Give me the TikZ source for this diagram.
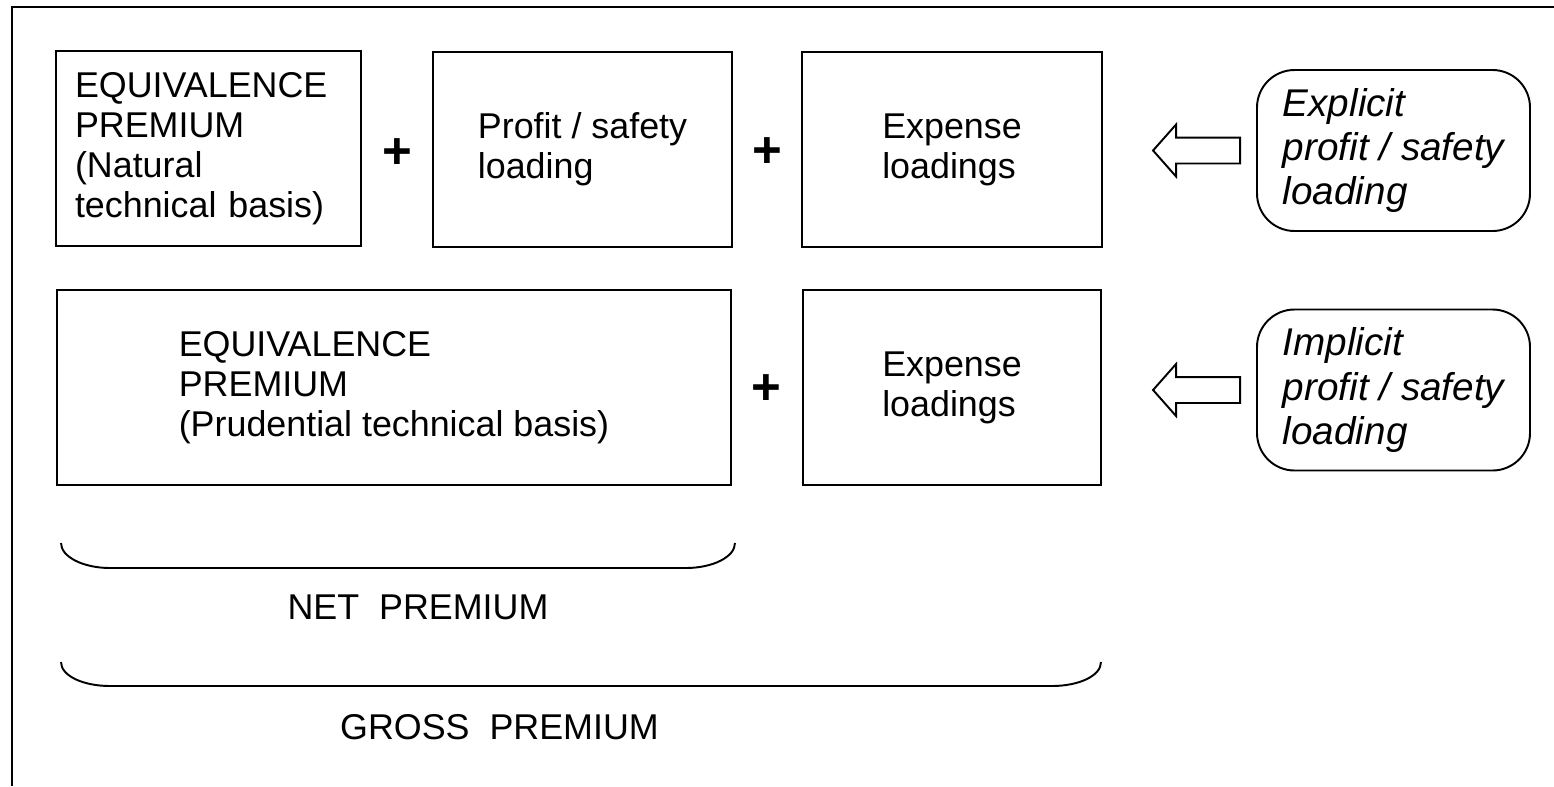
\documentclass[tikz,border=0pt]{standalone}
\usepackage{fontspec}
\setmainfont{Liberation Sans}
\usetikzlibrary{positioning, shapes.arrows}

\begin{document}
\begin{tikzpicture}[
  txt/.style={font=\fontsize{20.4}{22.8}\selectfont},
  box/.style={txt, draw, line width=1.1pt, align=left, inner sep=0pt, minimum height=3.9cm},
  rbox/.style={box, rounded corners=0.75cm, minimum width=5.46cm, minimum height=3.22cm, font=\fontsize{22}{25.3}\selectfont\itshape},
  plus/.style={font=\fontsize{29}{29}\selectfont\bfseries, inner sep=0pt},
  hollow/.style={draw, line width=1.1pt, single arrow, shape border rotate=180, inner sep=0pt, inner ysep=0.24cm,
    minimum height=1.74cm, minimum width=1cm, single arrow head extend=0.26cm, single arrow tip angle=97},
  brc/.style={line width=1.1pt},
  frame/.style={line width=1.1pt}]
  \useasboundingbox (0,0) rectangle (31.08,-15.72);
  \draw[frame] (31.08,-0.14) -- (0.24,-0.14) -- (0.24,-15.72);
  % first row: explicit loading
  \node[box, text width=5.34cm, inner xsep=0.38cm] (eqn) at (4.17,-2.97) {EQUIVALENCE\\PREMIUM\\(Natural\\technical basis)};
  \node[box, minimum width=5.98cm] (prf) at (11.65,-2.99) {Profit / safety\\loading};
  \node[box, minimum width=6cm] (exp1) at (19.04,-2.99) {Expense\\loadings};
  \node[plus] (p1) at (7.94,-3.08) {+};
  \node[plus] (p2) at (15.34,-3.06) {+};
  \node[rbox] (expl) at (27.87,-3.01) {Explicit\\profit / safety\\loading};
  \node[hollow, left=3mm of expl] (ar1) {};
  % second row: implicit loading
  \node[box, minimum width=13.48cm] (eqp) at (7.88,-7.75) {EQUIVALENCE\\PREMIUM\\(Prudential technical basis)};
  \node[box, minimum width=5.96cm] (exp2) at (19.04,-7.75) {Expense\\loadings};
  \node[plus] (p3) at (15.32,-7.8) {+};
  \node[rbox] (impl) at (27.87,-7.8) {Implicit\\profit / safety\\loading};
  \node[hollow, left=3mm of impl] (ar2) {};
  % braces
  \draw[brc] (1.22,-10.86) .. controls (1.22,-11.14) and (1.67,-11.36) .. (2.2,-11.36) -- (13.72,-11.36)
    .. controls (14.25,-11.36) and (14.7,-11.14) .. (14.7,-10.86);
  \node[txt] (net) at (8.36,-12.15) {NET\ \ PREMIUM};
  \draw[brc] (1.22,-13.24) .. controls (1.22,-13.52) and (1.67,-13.72) .. (2.2,-13.72) -- (21.04,-13.72)
    .. controls (21.57,-13.72) and (22.02,-13.52) .. (22.02,-13.24);
  \node[txt] (gross) at (9.99,-14.55) {GROSS\ \ PREMIUM};
\end{tikzpicture}
\end{document}
